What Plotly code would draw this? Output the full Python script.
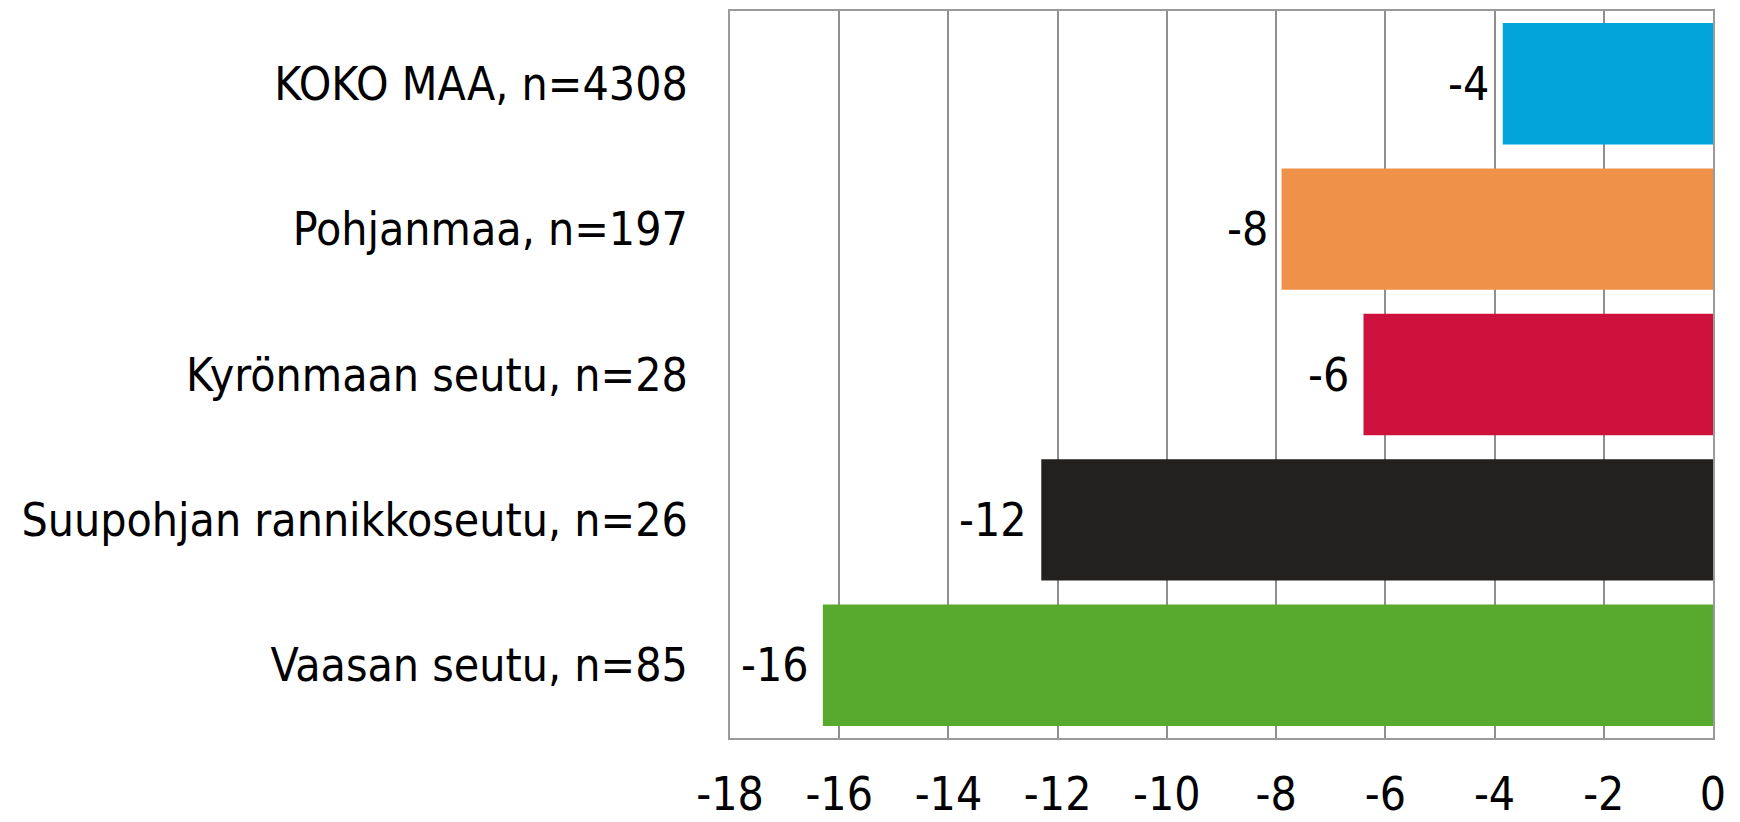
import plotly.graph_objects as go

categories = ["KOKO MAA, n=4308", "Pohjanmaa, n=197", "Kyrönmaan seutu, n=28",
              "Suupohjan rannikkoseutu, n=26", "Vaasan seutu, n=85"]
values = [-3.85, -7.9, -6.4, -12.3, -16.3]
labels = ["-4", "-8", "-6", "-12", "-16"]
colors = ["#02A4DA", "#F0914A", "#CE113C", "#222120", "#58AA2F"]
xticks = [-18, -16, -14, -12, -10, -8, -6, -4, -2, 0]

FONT = "DejaVu Sans Condensed, DejaVu Sans, sans-serif"
FS = 46

fig = go.Figure(go.Bar(
    y=categories, x=values, orientation="h",
    marker=dict(color=colors, line=dict(width=0)),
))

for c, v, t in zip(categories, values, labels):
    fig.add_annotation(x=v, y=c, text=t, showarrow=False, xanchor="right",
                       xshift=-12, font=dict(size=FS, color="black", family=FONT))

fig.update_layout(
    width=1732, height=814,
    margin=dict(l=722, r=27, t=1, b=81),
    paper_bgcolor="white", plot_bgcolor="white",
    bargap=0.165,
    showlegend=False,
    font=dict(family=FONT, size=FS, color="black"),
    xaxis=dict(range=[-18, 0], tickvals=xticks, ticktext=[str(v) for v in xticks],
               showgrid=True, gridcolor="#8f8f8f", gridwidth=2,
               showline=True, linecolor="#9a9a9a", linewidth=2, mirror=True,
               ticks="outside", ticklen=15, tickcolor="rgba(0,0,0,0)",
               zeroline=False, tickfont=dict(size=FS, family=FONT)),
    yaxis=dict(autorange="reversed", showline=True, linecolor="#9a9a9a", linewidth=2,
               mirror=True, ticks="outside", ticklen=31, tickcolor="rgba(0,0,0,0)",
               showgrid=False, tickfont=dict(size=FS, family=FONT)),
)

fig.write_html("out.html")
